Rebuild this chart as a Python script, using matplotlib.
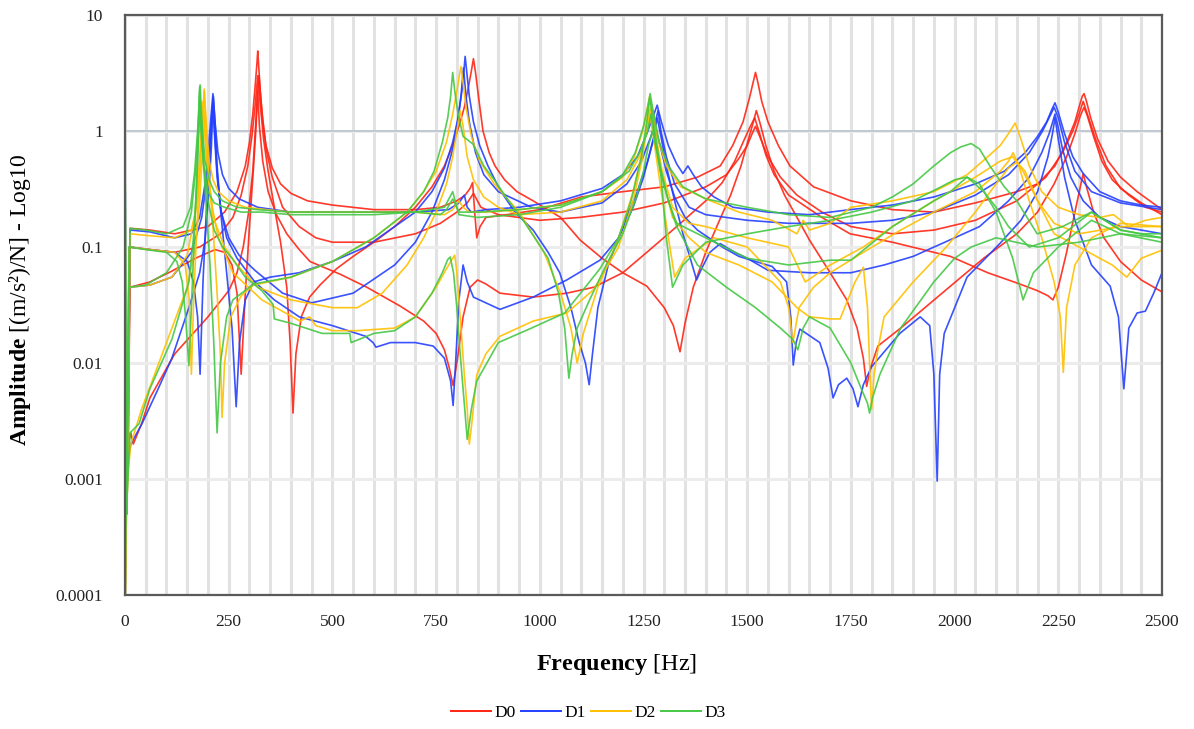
import numpy as np
import matplotlib.pyplot as plt
from matplotlib.lines import Line2D

#------------------------------------------------------------------------
# FRF amplitude curves, four measurement points per damage state
# (frequency in Hz, amplitude in (m/s^2)/N)

# D0
D0_A_F = [0.5, 3, 7, 12, 60, 120, 200, 240, 270, 290, 300, 308, 314, 318, 320, 322, 326, 332, 340, 355, 375, 400, 440, 500, 600, 700, 760, 800, 820, 832, 838, 843, 848, 856, 870, 920, 1000, 1100, 1200, 1300, 1380, 1435, 1465, 1490, 1505, 1514, 1520, 1526, 1535, 1550, 1575, 1603, 1660, 1750, 1850, 1950, 2050, 2150, 2200, 2242, 2270, 2290, 2302, 2308, 2312, 2318, 2328, 2345, 2370, 2400, 2440, 2500]
D0_A_A = [0.003, 0.0025, 0.002, 0.145, 0.14, 0.13, 0.15, 0.2, 0.3, 0.5, 0.8, 1.4, 2.5, 3.8, 4.9, 3.8, 2.2, 1.2, 0.75, 0.48, 0.35, 0.29, 0.25, 0.23, 0.21, 0.21, 0.22, 0.25, 0.28, 0.32, 0.36, 0.2, 0.12, 0.15, 0.18, 0.19, 0.21, 0.27, 0.3, 0.33, 0.4, 0.5, 0.75, 1.2, 1.9, 2.6, 3.2, 2.6, 1.8, 1.2, 0.75, 0.5, 0.33, 0.25, 0.21, 0.2, 0.24, 0.3, 0.35, 0.5, 0.8, 1.2, 1.7, 2.0, 2.1, 1.8, 1.3, 0.85, 0.55, 0.4, 0.3, 0.21]

D0_B_F = [0.5, 3, 7, 12, 60, 120, 180, 230, 260, 280, 296, 306, 314, 320, 326, 334, 345, 360, 375, 390, 398, 405, 412, 425, 445, 470, 510, 550, 600, 650, 700, 740, 770, 790, 805, 818, 828, 835, 840, 845, 852, 863, 878, 892, 915, 945, 984, 1050, 1097, 1150, 1200, 1258, 1300, 1322, 1338, 1350, 1370, 1400, 1430, 1460, 1485, 1503, 1515, 1522, 1530, 1545, 1565, 1590, 1620, 1650, 1700, 1740, 1765, 1780, 1788, 1797, 1815, 1870, 1990, 2070, 2150, 2200, 2240, 2270, 2290, 2303, 2312, 2320, 2335, 2355, 2380, 2420, 2460, 2500]
D0_B_A = [0.0001, 0.003, 0.002, 0.1, 0.095, 0.09, 0.1, 0.13, 0.18, 0.28, 0.5, 0.9, 1.7, 3.0, 1.7, 0.85, 0.45, 0.22, 0.11, 0.045, 0.015, 0.0037, 0.012, 0.025, 0.037, 0.047, 0.065, 0.083, 0.11, 0.15, 0.22, 0.33, 0.5, 0.75, 1.1, 1.6, 2.4, 3.3, 4.2, 3.2, 2.0, 1.0, 0.65, 0.5, 0.38, 0.3, 0.25, 0.18, 0.115, 0.08, 0.06, 0.046, 0.03, 0.021, 0.0125, 0.022, 0.045, 0.09, 0.16, 0.28, 0.5, 0.85, 1.2, 1.5, 1.2, 0.75, 0.45, 0.28, 0.18, 0.115, 0.06, 0.035, 0.02, 0.011, 0.0063, 0.009, 0.014, 0.02, 0.046, 0.08, 0.13, 0.2, 0.35, 0.6, 0.95, 1.35, 1.6, 1.35, 0.9, 0.55, 0.38, 0.28, 0.22, 0.2]

D0_C_F = [0.5, 4, 8, 12, 60, 113, 170, 217, 240, 258, 270, 280, 290, 300, 310, 316, 320, 324, 332, 345, 365, 390, 420, 446, 520, 583, 663, 720, 750, 770, 782, 791, 800, 815, 832, 850, 870, 904, 984, 1065, 1130, 1200, 1258, 1330, 1400, 1440, 1470, 1490, 1505, 1518, 1530, 1545, 1565, 1600, 1680, 1748, 1850, 1990, 2080, 2150, 2200, 2225, 2237, 2250, 2270, 2290, 2303, 2310, 2318, 2335, 2360, 2400, 2450, 2500]
D0_C_A = [0.002, 0.0012, 0.003, 0.045, 0.05, 0.062, 0.08, 0.095, 0.09, 0.07, 0.04, 0.008, 0.04, 0.15, 0.5, 1.1, 2.2, 1.1, 0.55, 0.3, 0.19, 0.13, 0.095, 0.075, 0.058, 0.045, 0.031, 0.023, 0.018, 0.013, 0.009, 0.0064, 0.01, 0.025, 0.045, 0.052, 0.048, 0.04, 0.037, 0.04, 0.045, 0.06, 0.09, 0.15, 0.25, 0.36, 0.55, 0.8, 1.05, 1.3, 0.95, 0.62, 0.42, 0.28, 0.18, 0.13, 0.11, 0.083, 0.06, 0.049, 0.042, 0.038, 0.035, 0.045, 0.09, 0.2, 0.33, 0.43, 0.33, 0.2, 0.12, 0.075, 0.052, 0.041]

D0_D_F = [0.5, 3, 8, 14, 20, 40, 60, 120, 200, 250, 270, 285, 298, 308, 314, 319, 323, 330, 340, 355, 380, 420, 460, 500, 600, 700, 760, 800, 825, 840, 858, 900, 1000, 1097, 1200, 1300, 1400, 1450, 1480, 1500, 1512, 1520, 1530, 1550, 1580, 1620, 1680, 1750, 1850, 1950, 2050, 2150, 2220, 2260, 2285, 2300, 2310, 2320, 2340, 2365, 2400, 2450, 2500]
D0_D_A = [0.0002, 0.003, 0.002, 0.0025, 0.002, 0.003, 0.005, 0.012, 0.025, 0.042, 0.06, 0.1, 0.2, 0.45, 1.0, 2.0, 3.0, 1.5, 0.7, 0.4, 0.22, 0.15, 0.12, 0.11, 0.11, 0.13, 0.16, 0.2, 0.24, 0.29, 0.22, 0.19, 0.17, 0.18, 0.2, 0.24, 0.33, 0.42, 0.58, 0.75, 0.95, 1.1, 0.9, 0.6, 0.4, 0.28, 0.2, 0.15, 0.13, 0.14, 0.17, 0.25, 0.4, 0.65, 1.0, 1.4, 1.8, 1.4, 0.85, 0.5, 0.32, 0.24, 0.19]

# D1
D1_A_F = [0.5, 3, 8, 12, 60, 120, 160, 180, 193, 201, 207, 212, 217, 224, 235, 250, 275, 320, 400, 500, 600, 700, 780, 805, 818, 825, 835, 870, 950, 1050, 1150, 1200, 1235, 1258, 1272, 1283, 1293, 1310, 1330, 1345, 1357, 1370, 1390, 1420, 1466, 1550, 1650, 1748, 1850, 1950, 2050, 2120, 2170, 2200, 2222, 2235, 2242, 2250, 2265, 2285, 2310, 2350, 2400, 2450, 2500]
D1_A_A = [0.0006, 0.0015, 0.002, 0.14, 0.135, 0.12, 0.13, 0.18, 0.35, 0.7, 1.3, 2.1, 1.2, 0.65, 0.42, 0.32, 0.26, 0.22, 0.2, 0.2, 0.2, 0.2, 0.21, 0.24, 0.28, 0.22, 0.2, 0.21, 0.22, 0.25, 0.32, 0.42, 0.6, 0.95, 1.3, 1.67, 1.2, 0.75, 0.52, 0.43, 0.5, 0.42, 0.33, 0.27, 0.22, 0.2, 0.19, 0.21, 0.23, 0.27, 0.35, 0.45, 0.65, 0.9, 1.2, 1.55, 1.75, 1.45, 0.95, 0.6, 0.43, 0.3, 0.25, 0.23, 0.22]

D1_B_F = [0.5, 4, 10, 60, 120, 150, 165, 175, 181, 188, 196, 203, 208, 212, 216, 222, 232, 245, 258, 268, 276, 290, 310, 350, 420, 500, 580, 650, 700, 740, 770, 790, 803, 812, 817, 820, 824, 830, 840, 855, 875, 904, 940, 984, 1020, 1048, 1075, 1095, 1110, 1119, 1127, 1140, 1165, 1200, 1235, 1260, 1275, 1283, 1292, 1305, 1325, 1345, 1365, 1378, 1390, 1410, 1435, 1470, 1500, 1550, 1650, 1750, 1830, 1900, 2000, 2060, 2130, 2180, 2210, 2228, 2238, 2242, 2248, 2260, 2280, 2310, 2350, 2400, 2450, 2500]
D1_B_A = [0.0001, 0.0008, 0.1, 0.095, 0.09, 0.075, 0.05, 0.025, 0.008, 0.05, 0.2, 0.5, 1.0, 1.9, 1.0, 0.45, 0.18, 0.06, 0.02, 0.0042, 0.015, 0.035, 0.05, 0.055, 0.06, 0.075, 0.1, 0.15, 0.2, 0.3, 0.48, 0.8, 1.3, 2.2, 3.3, 4.4, 3.2, 2.0, 1.2, 0.75, 0.5, 0.31, 0.2, 0.14, 0.09, 0.06, 0.03, 0.015, 0.01, 0.0065, 0.012, 0.03, 0.07, 0.15, 0.3, 0.55, 0.9, 1.3, 0.9, 0.5, 0.25, 0.13, 0.075, 0.052, 0.065, 0.09, 0.107, 0.09, 0.08, 0.063, 0.06, 0.06, 0.07, 0.083, 0.12, 0.15, 0.25, 0.4, 0.65, 0.95, 1.25, 1.4, 1.15, 0.7, 0.4, 0.25, 0.18, 0.15, 0.14, 0.13]

D1_C_F = [0.5, 4, 10, 60, 113, 160, 185, 198, 205, 210, 213, 217, 222, 230, 245, 270, 313, 360, 420, 500, 580, 598, 605, 640, 700, 743, 770, 785, 791, 797, 805, 815, 825, 840, 904, 984, 1065, 1145, 1190, 1225, 1250, 1268, 1280, 1290, 1305, 1325, 1350, 1380, 1440, 1480, 1560, 1595, 1605, 1611, 1618, 1627, 1675, 1695, 1707, 1720, 1740, 1755, 1767, 1780, 1800, 1868, 1917, 1940, 1950, 1958, 1964, 1975, 2030, 2110, 2160, 2200, 2225, 2236, 2242, 2250, 2265, 2290, 2330, 2375, 2395, 2408, 2420, 2440, 2460, 2480, 2500]
D1_C_A = [0.0006, 0.0005, 0.045, 0.047, 0.055, 0.09, 0.18, 0.4, 0.8, 1.5, 2.0, 1.2, 0.5, 0.22, 0.12, 0.08, 0.05, 0.035, 0.025, 0.021, 0.017, 0.015, 0.0137, 0.015, 0.015, 0.014, 0.011, 0.007, 0.0043, 0.01, 0.035, 0.07, 0.05, 0.037, 0.029, 0.037, 0.052, 0.077, 0.12, 0.22, 0.4, 0.7, 1.0, 0.75, 0.45, 0.27, 0.18, 0.14, 0.1, 0.083, 0.068, 0.05, 0.025, 0.0096, 0.015, 0.0196, 0.015, 0.009, 0.005, 0.0065, 0.0074, 0.006, 0.0042, 0.0065, 0.0093, 0.018, 0.025, 0.021, 0.008, 0.00096, 0.008, 0.018, 0.055, 0.108, 0.17, 0.3, 0.6, 0.95, 1.3, 0.85, 0.4, 0.17, 0.07, 0.046, 0.025, 0.006, 0.02, 0.027, 0.028, 0.04, 0.06]

D1_D_F = [0.5, 3, 8, 14, 41, 80, 113, 154, 180, 193, 202, 208, 212, 216, 222, 232, 250, 275, 313, 380, 450, 550, 650, 700, 740, 770, 790, 802, 810, 816, 822, 830, 845, 865, 900, 980, 1050, 1150, 1210, 1245, 1268, 1280, 1285, 1292, 1305, 1325, 1360, 1400, 1500, 1600, 1700, 1750, 1850, 1950, 2050, 2130, 2180, 2212, 2230, 2240, 2250, 2265, 2290, 2330, 2400, 2500]
D1_D_A = [0.3, 0.0006, 0.0015, 0.002, 0.003, 0.006, 0.011, 0.03, 0.06, 0.115, 0.3, 0.7, 1.7, 0.9, 0.4, 0.2, 0.12, 0.085, 0.063, 0.04, 0.033, 0.04, 0.07, 0.11, 0.2, 0.38, 0.7, 1.2, 2.0, 3.5, 2.0, 1.2, 0.65, 0.42, 0.3, 0.22, 0.2, 0.24, 0.35, 0.55, 0.9, 1.25, 1.5, 1.0, 0.6, 0.35, 0.22, 0.19, 0.17, 0.16, 0.16, 0.16, 0.17, 0.2, 0.28, 0.42, 0.65, 1.0, 1.35, 1.6, 1.3, 0.8, 0.45, 0.3, 0.24, 0.21]

# D2
D2_A_F = [0.5, 3, 8, 12, 60, 120, 160, 172, 181, 186, 191, 196, 203, 212, 225, 250, 290, 340, 400, 500, 600, 700, 770, 790, 805, 815, 830, 870, 950, 1050, 1150, 1200, 1228, 1248, 1258, 1265, 1272, 1285, 1305, 1340, 1400, 1480, 1560, 1620, 1635, 1650, 1700, 1750, 1850, 1950, 2030, 2080, 2110, 2130, 2146, 2160, 2180, 2210, 2250, 2300, 2350, 2383, 2420, 2460, 2500]
D2_A_A = [0.0001, 0.001, 0.002, 0.13, 0.125, 0.12, 0.14, 0.22, 0.45, 1.0, 2.3, 1.1, 0.55, 0.38, 0.3, 0.25, 0.22, 0.21, 0.2, 0.2, 0.2, 0.2, 0.19, 0.21, 0.25, 0.22, 0.2, 0.2, 0.21, 0.23, 0.3, 0.4, 0.6, 1.0, 1.5, 2.0, 1.5, 0.85, 0.5, 0.33, 0.26, 0.2, 0.17, 0.13, 0.17, 0.14, 0.16, 0.22, 0.25, 0.3, 0.42, 0.6, 0.75, 0.95, 1.17, 0.85, 0.5, 0.3, 0.22, 0.19, 0.18, 0.19, 0.15, 0.17, 0.18]

D2_B_F = [0.5, 4, 10, 60, 120, 145, 155, 160, 166, 175, 183, 188, 191, 195, 202, 212, 222, 230, 234, 240, 255, 280, 310, 400, 500, 600, 680, 720, 750, 775, 790, 800, 806, 810, 815, 822, 835, 855, 890, 950, 1010, 1050, 1075, 1090, 1105, 1140, 1190, 1225, 1248, 1260, 1265, 1272, 1290, 1310, 1325, 1350, 1420, 1500, 1580, 1600, 1610, 1625, 1660, 1700, 1780, 1870, 1950, 2050, 2110, 2130, 2141, 2155, 2180, 2210, 2240, 2255, 2262, 2270, 2290, 2330, 2400, 2500]
D2_B_A = [0.0001, 0.0015, 0.1, 0.095, 0.09, 0.07, 0.035, 0.008, 0.04, 0.2, 0.7, 1.4, 2.2, 1.2, 0.45, 0.15, 0.04, 0.012, 0.0034, 0.01, 0.025, 0.038, 0.047, 0.055, 0.075, 0.12, 0.2, 0.3, 0.45, 0.8, 1.4, 2.2, 3.0, 3.6, 2.6, 1.6, 0.9, 0.55, 0.35, 0.2, 0.09, 0.04, 0.02, 0.01, 0.018, 0.045, 0.12, 0.3, 0.7, 1.1, 1.5, 1.0, 0.35, 0.12, 0.055, 0.08, 0.12, 0.1, 0.05, 0.03, 0.015, 0.03, 0.045, 0.06, 0.09, 0.14, 0.2, 0.3, 0.45, 0.55, 0.65, 0.5, 0.25, 0.12, 0.05, 0.025, 0.0083, 0.03, 0.07, 0.12, 0.16, 0.15]

D2_C_F = [0.5, 4, 10, 60, 113, 150, 170, 180, 185, 188, 192, 200, 210, 225, 260, 330, 422, 445, 460, 500, 560, 650, 700, 750, 775, 790, 795, 800, 810, 818, 825, 830, 836, 848, 870, 904, 984, 1065, 1130, 1190, 1225, 1248, 1262, 1275, 1295, 1320, 1360, 1400, 1480, 1560, 1620, 1650, 1700, 1724, 1760, 1780, 1790, 1796, 1800, 1806, 1815, 1830, 1900, 1980, 2050, 2100, 2130, 2150, 2170, 2200, 2240, 2300, 2380, 2415, 2450, 2500]
D2_C_A = [0.0001, 0.0008, 0.045, 0.047, 0.055, 0.085, 0.2, 0.6, 1.2, 1.8, 1.0, 0.45, 0.22, 0.12, 0.06, 0.035, 0.023, 0.025, 0.021, 0.019, 0.019, 0.02, 0.025, 0.045, 0.065, 0.08, 0.085, 0.06, 0.02, 0.008, 0.004, 0.002, 0.003, 0.0079, 0.012, 0.017, 0.023, 0.027, 0.043, 0.1, 0.25, 0.6, 1.6, 0.9, 0.4, 0.18, 0.12, 0.09, 0.07, 0.05, 0.03, 0.025, 0.024, 0.024, 0.05, 0.067, 0.03, 0.008, 0.004, 0.008, 0.013, 0.025, 0.05, 0.1, 0.2, 0.35, 0.48, 0.54, 0.45, 0.25, 0.13, 0.1, 0.07, 0.055, 0.08, 0.094]

D2_D_F = [0.5, 3, 8, 14, 40, 100, 150, 170, 180, 186, 190, 194, 200, 215, 240, 270, 320, 400, 500, 560, 620, 680, 720, 750, 775, 790, 800, 808, 815, 825, 840, 865, 900, 950, 1050, 1150, 1210, 1240, 1258, 1268, 1278, 1295, 1320, 1360, 1400, 1500, 1600, 1640, 1700, 1780, 1850, 1950, 2050, 2110, 2140, 2165, 2200, 2240, 2300, 2400, 2500]
D2_D_A = [0.2, 0.0005, 0.0012, 0.002, 0.004, 0.015, 0.045, 0.1, 0.25, 0.6, 1.5, 0.8, 0.4, 0.17, 0.1, 0.07, 0.045, 0.035, 0.03, 0.03, 0.04, 0.07, 0.12, 0.2, 0.35, 0.6, 1.0, 1.5, 1.1, 0.6, 0.38, 0.27, 0.22, 0.19, 0.2, 0.25, 0.38, 0.6, 1.0, 1.6, 1.0, 0.45, 0.22, 0.16, 0.15, 0.12, 0.1, 0.05, 0.07, 0.1, 0.15, 0.25, 0.4, 0.55, 0.6, 0.45, 0.25, 0.16, 0.13, 0.15, 0.15]

# D3
D3_A_F = [0.5, 3, 6, 12, 50, 100, 140, 158, 168, 175, 181, 186, 193, 203, 215, 235, 270, 320, 400, 500, 600, 700, 760, 775, 790, 805, 850, 950, 1050, 1150, 1200, 1230, 1250, 1260, 1266, 1273, 1288, 1310, 1345, 1400, 1500, 1600, 1700, 1800, 1850, 1900, 1950, 1990, 2015, 2040, 2060, 2085, 2120, 2150, 2199, 2260, 2330, 2400, 2500]
D3_A_A = [0.35, 0.0008, 0.003, 0.145, 0.14, 0.13, 0.15, 0.22, 0.45, 1.0, 2.5, 1.1, 0.55, 0.38, 0.3, 0.25, 0.22, 0.21, 0.2, 0.2, 0.2, 0.2, 0.19, 0.21, 0.26, 0.2, 0.2, 0.21, 0.23, 0.3, 0.42, 0.65, 1.1, 1.6, 2.1, 1.5, 0.8, 0.5, 0.33, 0.26, 0.22, 0.19, 0.18, 0.22, 0.27, 0.35, 0.5, 0.65, 0.73, 0.78, 0.7, 0.5, 0.33, 0.25, 0.13, 0.15, 0.2, 0.14, 0.12]

D3_B_F = [0.5, 4, 10, 50, 100, 125, 138, 146, 154, 160, 168, 174, 178, 180, 183, 188, 195, 205, 214, 222, 230, 245, 260, 310, 400, 500, 600, 680, 720, 745, 765, 778, 785, 790, 795, 803, 815, 839, 865, 890, 925, 960, 1020, 1045, 1060, 1070, 1078, 1090, 1120, 1160, 1200, 1230, 1250, 1262, 1272, 1290, 1305, 1320, 1345, 1400, 1500, 1600, 1700, 1800, 1900, 1960, 2000, 2030, 2060, 2100, 2140, 2165, 2190, 2250, 2330, 2400, 2500]
D3_B_A = [0.0001, 0.0015, 0.1, 0.095, 0.09, 0.075, 0.05, 0.025, 0.0095, 0.03, 0.15, 0.5, 1.2, 2.4, 1.3, 0.6, 0.25, 0.07, 0.015, 0.0025, 0.01, 0.025, 0.035, 0.048, 0.055, 0.075, 0.12, 0.2, 0.3, 0.45, 0.8, 1.3, 2.0, 3.2, 2.2, 1.4, 0.9, 0.77, 0.5, 0.38, 0.25, 0.17, 0.08, 0.04, 0.02, 0.0074, 0.012, 0.02, 0.035, 0.07, 0.13, 0.25, 0.45, 0.75, 1.0, 0.5, 0.12, 0.045, 0.07, 0.11, 0.13, 0.15, 0.17, 0.2, 0.25, 0.32, 0.38, 0.40, 0.35, 0.2, 0.08, 0.035, 0.06, 0.1, 0.17, 0.13, 0.11]

D3_C_F = [0.5, 5, 10, 50, 100, 140, 160, 170, 176, 180, 184, 190, 200, 215, 235, 258, 290, 330, 357, 360, 400, 475, 542, 545, 600, 650, 700, 740, 765, 778, 784, 792, 800, 808, 815, 825, 835, 848, 900, 980, 1060, 1145, 1190, 1220, 1245, 1258, 1265, 1275, 1290, 1310, 1330, 1380, 1450, 1520, 1580, 1610, 1622, 1635, 1650, 1700, 1750, 1775, 1790, 1795, 1802, 1820, 1870, 1950, 2000, 2040, 2100, 2200, 2300, 2400, 2500]
D3_C_A = [0.001, 0.0005, 0.045, 0.047, 0.06, 0.1, 0.2, 0.45, 1.0, 2.3, 1.2, 0.5, 0.25, 0.14, 0.1, 0.08, 0.055, 0.042, 0.032, 0.024, 0.022, 0.018, 0.018, 0.015, 0.018, 0.019, 0.025, 0.04, 0.06, 0.078, 0.082, 0.06, 0.03, 0.012, 0.006, 0.0022, 0.004, 0.007, 0.015, 0.02, 0.027, 0.065, 0.12, 0.25, 0.6, 1.2, 1.9, 1.1, 0.5, 0.25, 0.15, 0.07, 0.045, 0.03, 0.02, 0.016, 0.013, 0.02, 0.025, 0.02, 0.01, 0.006, 0.0045, 0.0037, 0.005, 0.008, 0.02, 0.05, 0.08, 0.1, 0.12, 0.1, 0.11, 0.13, 0.12]

D3_D_F = [0.5, 3, 12, 34, 60, 113, 154, 165, 172, 177, 180, 184, 190, 200, 215, 240, 280, 330, 400, 500, 600, 700, 770, 790, 805, 850, 950, 1050, 1150, 1215, 1245, 1260, 1268, 1276, 1290, 1310, 1330, 1400, 1500, 1600, 1700, 1750, 1850, 1950, 1990, 2015, 2030, 2045, 2070, 2100, 2130, 2180, 2250, 2330, 2400, 2450, 2500]
D3_D_A = [0.35, 0.0005, 0.0025, 0.003, 0.006, 0.016, 0.05, 0.12, 0.3, 0.8, 1.6, 0.9, 0.5, 0.3, 0.24, 0.22, 0.2, 0.2, 0.19, 0.19, 0.19, 0.2, 0.22, 0.3, 0.19, 0.18, 0.19, 0.22, 0.3, 0.45, 0.7, 1.0, 1.4, 0.9, 0.45, 0.25, 0.16, 0.12, 0.08, 0.07, 0.077, 0.077, 0.15, 0.25, 0.3, 0.36, 0.40, 0.36, 0.3, 0.22, 0.15, 0.1, 0.12, 0.2, 0.14, 0.13, 0.13]

STATES = ['D0', 'D1', 'D2', 'D3']
COLORS = ['#ff2414', '#2440ff', '#ffc000', '#45c845']

CURVES = {
    'D0': [(D0_A_F, D0_A_A), (D0_B_F, D0_B_A), (D0_C_F, D0_C_A), (D0_D_F, D0_D_A)],
    'D1': [(D1_A_F, D1_A_A), (D1_B_F, D1_B_A), (D1_C_F, D1_C_A), (D1_D_F, D1_D_A)],
    'D2': [(D2_A_F, D2_A_A), (D2_B_F, D2_B_A), (D2_C_F, D2_C_A), (D2_D_F, D2_D_A)],
    'D3': [(D3_A_F, D3_A_A), (D3_B_F, D3_B_A), (D3_C_F, D3_C_A), (D3_D_F, D3_D_A)],
}

YTICKS = [0.0001, 0.001, 0.01, 0.1, 1, 10]
YTICK_LABELS = ['0.0001', '0.001', '0.01', '0.1', '1', '10']
XTICKS = [0, 250, 500, 750, 1000, 1250, 1500, 1750, 2000, 2250, 2500]


#------------------------------------------------------------------------
plt.rcParams['font.family'] = ['Liberation Serif', 'DejaVu Serif']
plt.rcParams['mathtext.fontset'] = 'custom'
plt.rcParams['mathtext.rm'] = 'Liberation Serif'
plt.rcParams['mathtext.bf'] = 'Liberation Serif:bold'

fig = plt.figure(figsize=(11.94, 7.29), dpi=100)
ax = fig.add_axes([0.1047, 0.1838, 0.8685, 0.7956])

for state, color in zip(STATES, COLORS):
    for f, a in CURVES[state]:
        ax.plot(f, a, color=color, lw=1.2, alpha=0.9, solid_joinstyle='round')

ax.set_yscale('log')
ax.set_xlim(0, 2500)
ax.set_ylim(0.0001, 10)

ax.set_xticks(XTICKS)
ax.set_xticks(np.arange(0, 2501, 50), minor=True)
ax.set_yticks(YTICKS)
ax.set_yticklabels(YTICK_LABELS)
ax.yaxis.set_minor_locator(plt.NullLocator())
ax.tick_params(axis='both', which='both', length=0, labelsize=12.5, colors='#222222')
ax.tick_params(axis='x', pad=14)
ax.tick_params(axis='y', pad=16)

# grid: light vertical bands every 50 Hz, decades horizontal
ax.grid(True, axis='x', which='both', color='#e2e2e2', lw=2.2)
ax.grid(True, axis='y', which='major', color='#ececec', lw=2.2)
ax.axhline(1, color='#b9c2cf', lw=1.2, zorder=0.9)
ax.set_axisbelow(True)

for s in ax.spines.values():
    s.set_color('#5a5a5a')
    s.set_linewidth(1.6)

ax.set_xlabel(r'$\mathbf{Frequency}$ [Hz]', fontsize=17.5)
ax.xaxis.set_label_coords(0.474, -0.098)
ax.set_ylabel(r'$\mathbf{Amplitude}$ [(m/s²)/N] - Log10', fontsize=17)
ax.yaxis.set_label_coords(-0.089, 0.509)

handles = [Line2D([], [], color=c, lw=1.4) for c in COLORS]
fig.legend(handles, STATES, loc='center', bbox_to_anchor=(0.4925, 0.022), ncol=4,
           frameon=False, fontsize=12.5, handlelength=2.3, handletextpad=0.2,
           columnspacing=0.3)

plt.savefig('out.png', dpi=100)
